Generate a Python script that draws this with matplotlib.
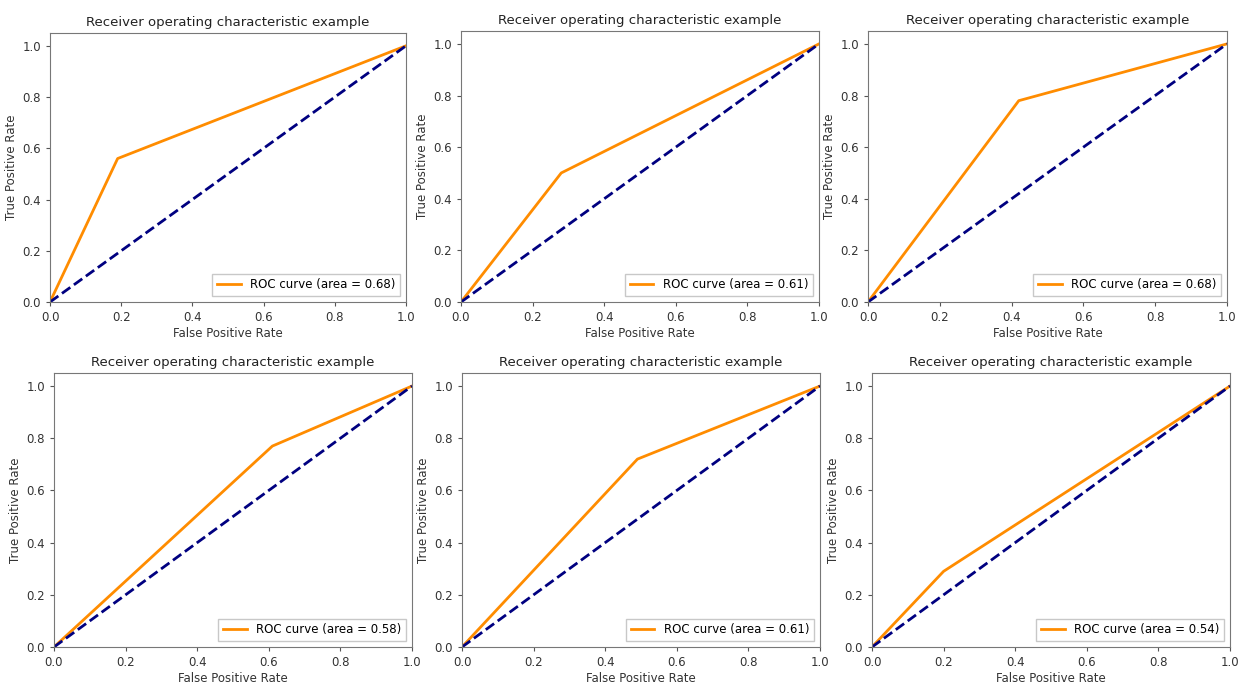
import matplotlib
matplotlib.use('Agg')
import matplotlib.pyplot as plt

# one ROC knee point per panel (fpr, tpr), plus the area shown in the legend
fpr = [[0.0, 0.19, 1.0], [0.0, 0.28, 1.0], [0.0, 0.42, 1.0],
       [0.0, 0.61, 1.0], [0.0, 0.49, 1.0], [0.0, 0.20, 1.0]]
tpr = [[0.0, 0.56, 1.0], [0.0, 0.50, 1.0], [0.0, 0.78, 1.0],
       [0.0, 0.77, 1.0], [0.0, 0.72, 1.0], [0.0, 0.29, 1.0]]
areas = [0.68, 0.61, 0.68, 0.58, 0.61, 0.54]
chance = [0.0, 1.0]
ticks = [0.0, 0.2, 0.4, 0.6, 0.8, 1.0]

W, H = 1239, 686
# axes boxes in pixels: left, top, width, height
boxes = [(50, 33, 356, 269), (461, 31, 358, 271), (868, 31, 359, 271),
         (54, 373, 358, 274), (462, 373, 358, 274), (872, 373, 358, 274)]

fig = plt.figure(figsize=(W / 100, H / 100), dpi=100)
for i, (l, t, w, h) in enumerate(boxes):
    ax = fig.add_axes([l / W, 1 - (t + h) / H, w / W, h / H])
    ax.plot(fpr[i], tpr[i], color='darkorange', lw=2,
            label=f'ROC curve (area = {areas[i]:.2f})')
    ax.plot(chance, chance, color='navy', lw=2, linestyle='--')
    ax.set_xlim(0.0, 1.0)
    ax.set_ylim(0.0, 1.05)
    ax.set_xticks(ticks)
    ax.set_yticks(ticks)
    ax.tick_params(labelsize=8.5, length=3, color='#555555', labelcolor='#333333')
    ax.set_xlabel('False Positive Rate', fontsize=8.5, labelpad=2, color='#333333')
    ax.set_ylabel('True Positive Rate', fontsize=8.5, labelpad=3, color='#333333')
    ax.set_title('Receiver operating characteristic example', fontsize=9.5,
                 pad=5, color='#222222')
    for s in ax.spines.values():
        s.set_color('#777777')
    leg = ax.legend(loc='lower right', fontsize=8.5, fancybox=False)
    leg.get_frame().set_edgecolor('#bbbbbb')

fig.savefig('out.png', dpi=100)
